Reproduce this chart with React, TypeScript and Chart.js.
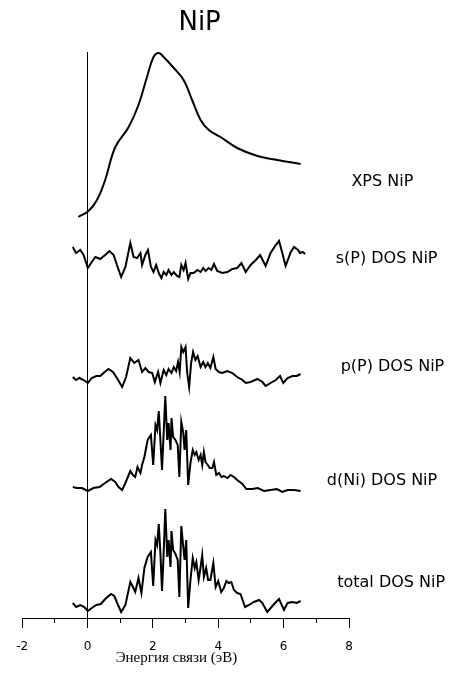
import React, { useEffect, useRef } from 'react';
import { Chart, registerables } from 'chart.js';

Chart.register(...registerables);

const chartTitle = 'NiP';
const xAxisTitle = 'Энергия связи (эВ)';
const seriesNames = ['XPS NiP', 's(P) DOS NiP', 'p(P) DOS NiP', 'd(Ni) DOS NiP', 'total DOS NiP'];

// XPS spectrum (energy eV, plotted intensity incl. vertical offset)
const xpsE = [-0.28, 0.03, 0.29, 0.54, 0.85, 1.26, 1.56, 1.82, 2.02, 2.18, 2.33, 2.64, 2.94, 3.2, 3.46, 3.71, 4.07, 4.58, 5.2, 5.81, 6.52];
const xpsY = [401, 407, 418, 438, 471, 491, 513, 541, 561, 565, 561, 550, 538, 518, 498, 488, 481, 470, 462, 458, 454];

// s(P) DOS
const sE = [-0.45, -0.35, -0.22, -0.12, 0.01, 0.13, 0.24, 0.39, 0.54, 0.67, 0.8, 0.9, 1.03, 1.16, 1.31, 1.41, 1.52, 1.62, 1.67, 1.77, 1.85, 1.94, 2.02, 2.1, 2.18, 2.26, 2.33, 2.41, 2.48, 2.57, 2.64, 2.74, 2.81, 2.87, 2.94, 3.0, 3.08, 3.15, 3.25, 3.36, 3.46, 3.54, 3.61, 3.71, 3.79, 3.87, 3.97, 4.12, 4.28, 4.43, 4.58, 4.71, 4.84, 4.99, 5.15, 5.28, 5.45, 5.6, 5.76, 5.86, 5.96, 6.06, 6.22, 6.32, 6.44, 6.5, 6.58, 6.66];
const sY = [371, 365, 368, 363, 350, 356, 361, 359, 363, 367, 363, 353, 341, 351, 375, 361, 360, 365, 353, 363, 368, 351, 346, 353, 345, 340, 346, 343, 348, 343, 346, 342, 341, 353, 348, 355, 339, 345, 345, 348, 346, 350, 347, 350, 348, 354, 347, 345, 346, 349, 350, 355, 346, 353, 358, 363, 352, 365, 373, 377, 365, 352, 366, 371, 368, 365, 366, 364];

// p(P) DOS
const pE = [-0.45, -0.35, -0.25, -0.12, 0.01, 0.13, 0.27, 0.39, 0.49, 0.64, 0.78, 0.9, 1.06, 1.18, 1.31, 1.43, 1.56, 1.67, 1.77, 1.87, 1.98, 2.06, 2.16, 2.23, 2.33, 2.41, 2.48, 2.57, 2.64, 2.71, 2.77, 2.82, 2.87, 2.93, 3.0, 3.05, 3.11, 3.17, 3.23, 3.3, 3.37, 3.46, 3.54, 3.61, 3.68, 3.76, 3.85, 3.92, 4.02, 4.12, 4.28, 4.43, 4.58, 4.74, 4.84, 4.99, 5.2, 5.35, 5.45, 5.6, 5.76, 5.89, 5.99, 6.12, 6.27, 6.4, 6.52];
const pY = [241, 238, 240, 238, 235, 240, 242, 242, 245, 249, 246, 240, 231, 241, 260, 255, 258, 246, 250, 246, 245, 236, 246, 235, 248, 243, 249, 245, 251, 247, 256, 246, 271, 266, 271, 245, 231, 255, 266, 258, 262, 251, 256, 251, 255, 250, 261, 249, 246, 245, 247, 245, 241, 238, 235, 236, 239, 236, 232, 235, 238, 242, 235, 240, 242, 242, 244];

// d(Ni) DOS
const dE = [-0.45, -0.33, -0.17, 0.01, 0.18, 0.37, 0.54, 0.72, 0.85, 0.95, 1.06, 1.16, 1.31, 1.39, 1.46, 1.53, 1.62, 1.67, 1.74, 1.84, 1.94, 2.01, 2.08, 2.13, 2.18, 2.23, 2.28, 2.33, 2.38, 2.44, 2.48, 2.54, 2.57, 2.62, 2.69, 2.76, 2.81, 2.87, 2.93, 2.97, 3.02, 3.08, 3.15, 3.22, 3.28, 3.33, 3.4, 3.46, 3.51, 3.56, 3.61, 3.68, 3.74, 3.82, 3.87, 3.94, 4.02, 4.1, 4.17, 4.28, 4.38, 4.48, 4.58, 4.74, 4.86, 5.04, 5.21, 5.4, 5.6, 5.79, 5.96, 6.12, 6.32, 6.52];
const dY = [131, 130, 130, 127, 130, 131, 135, 139, 136, 131, 128, 135, 147, 143, 141, 151, 145, 153, 161, 178, 183, 153, 193, 188, 207, 178, 148, 185, 222, 178, 195, 168, 200, 181, 178, 173, 141, 196, 185, 168, 188, 133, 155, 168, 163, 166, 158, 163, 153, 166, 156, 153, 150, 150, 156, 143, 145, 141, 142, 140, 143, 141, 138, 134, 129, 129, 130, 127, 128, 129, 126, 128, 128, 127];

// total DOS
const tE = [-0.45, -0.35, -0.22, -0.1, 0.01, 0.13, 0.27, 0.41, 0.54, 0.72, 0.82, 0.92, 1.03, 1.16, 1.31, 1.39, 1.46, 1.56, 1.65, 1.74, 1.84, 1.94, 2.01, 2.08, 2.13, 2.18, 2.23, 2.28, 2.33, 2.38, 2.44, 2.48, 2.54, 2.57, 2.62, 2.69, 2.76, 2.81, 2.87, 2.93, 2.97, 3.02, 3.08, 3.15, 3.22, 3.28, 3.33, 3.4, 3.46, 3.51, 3.56, 3.63, 3.69, 3.76, 3.85, 3.92, 4.0, 4.09, 4.17, 4.25, 4.32, 4.4, 4.48, 4.58, 4.68, 4.82, 4.94, 5.09, 5.25, 5.35, 5.5, 5.71, 5.86, 6.01, 6.12, 6.27, 6.4, 6.52];
const tY = [15, 11, 13, 11, 7, 10, 13, 14, 19, 24, 22, 14, 6, 13, 36, 31, 26, 40, 25, 50, 61, 66, 32, 78, 73, 94, 65, 27, 65, 109, 61, 78, 51, 87, 68, 64, 58, 21, 92, 71, 58, 78, 10, 38, 60, 50, 56, 38, 51, 63, 41, 50, 38, 38, 55, 31, 37, 26, 30, 37, 35, 36, 28, 25, 24, 11, 13, 16, 18, 15, 6, 14, 19, 8, 15, 16, 15, 17];

// zero-energy reference line
const zeroLineE = [0, 0];
const zeroLineY = [0, 566];

const xMin = -2;
const xMax = 8;
const yMin = 0;
const yMax = 566;

// label anchor positions in data units
const labelAnchors = [
  { e: 9.02, y: 436 },
  { e: 9.15, y: 359 },
  { e: 9.33, y: 251 },
  { e: 9.01, y: 137 },
  { e: 9.29, y: 35 },
];
const titleAnchor = { e: 3.43, y: 595 };
const xTitleAnchor = { e: 2.72 };

const pts = (xs: number[], ys: number[]) => xs.map((x, i) => ({ x, y: ys[i] }));

export default function App() {
  const ref = useRef<HTMLCanvasElement | null>(null);

  useEffect(() => {
    if (!ref.current) return;

    const textPlugin = {
      id: 'texts',
      afterDraw(chart: any) {
        const { ctx, scales } = chart;
        const xs = scales.x;
        const ys = scales.y;
        ctx.save();
        // minor ticks
        ctx.strokeStyle = '#000';
        ctx.lineWidth = 1;
        for (let v = xMin + 1; v < xMax; v += 2) {
          const px = Math.round(xs.getPixelForValue(v) - 0.5) + 0.5;
          ctx.beginPath();
          ctx.moveTo(px, chart.chartArea.bottom);
          ctx.lineTo(px, chart.chartArea.bottom + 5);
          ctx.stroke();
        }
        ctx.fillStyle = '#000';
        ctx.textBaseline = 'middle';
        ctx.textAlign = 'center';
        ctx.font = "16px 'DejaVu Sans'";
        seriesNames.forEach((name, i) => {
          const a = labelAnchors[i];
          ctx.fillText(name, xs.getPixelForValue(a.e), ys.getPixelForValue(a.y));
        });
        ctx.font = "26px 'DejaVu Sans'";
        ctx.fillText(chartTitle, xs.getPixelForValue(titleAnchor.e), ys.getPixelForValue(titleAnchor.y));
        ctx.font = "15px 'Liberation Serif'";
        ctx.textBaseline = 'alphabetic';
        ctx.fillText(xAxisTitle, xs.getPixelForValue(xTitleAnchor.e), chart.chartArea.bottom + 44);
        ctx.restore();
      },
    };

    const line = (data: any[], smooth = false, width = 2) => ({
      data,
      borderColor: '#000',
      backgroundColor: '#000',
      borderWidth: width,
      pointRadius: 0,
      fill: false,
      tension: smooth ? 0.4 : 0,
      clip: false,
    });

    const chart = new Chart(ref.current, {
      type: 'line',
      data: {
        datasets: [
          line(pts(zeroLineE, zeroLineY), false, 1),
          line(pts(xpsE, xpsY), true),
          line(pts(sE, sY)),
          line(pts(pE, pY)),
          line(pts(dE, dY)),
          line(pts(tE, tY)),
        ] as any,
      },
      options: {
        animation: false,
        responsive: false,
        devicePixelRatio: 1,
        layout: { padding: { top: 52, left: 22.125, right: 102, bottom: 17 } },
        plugins: { legend: { display: false }, title: { display: false }, tooltip: { enabled: false } },
        scales: {
          x: {
            type: 'linear',
            min: xMin,
            max: xMax,
            afterFit: (s: any) => { s.height = 40; },
            ticks: {
              stepSize: 2,
              autoSkip: false,
              maxRotation: 0,
              color: '#000',
              padding: 12,
              font: { family: 'DejaVu Sans', size: 12 },
            },
            grid: { drawOnChartArea: false, drawTicks: true, tickLength: 10, color: '#000', tickColor: '#000' },
            border: { display: true, color: '#000', width: 1 },
          },
          y: {
            type: 'linear',
            min: yMin,
            max: yMax,
            display: false,
          },
        },
      } as any,
      plugins: [textPlugin],
    });
    return () => chart.destroy();
  }, []);

  return (
    <div style={{ position: 'fixed', left: 0, top: 0, width: 451, height: 675, background: '#fff' }}>
      <canvas ref={ref} width={451} height={675} style={{ display: 'block' }} />
    </div>
  );
}
